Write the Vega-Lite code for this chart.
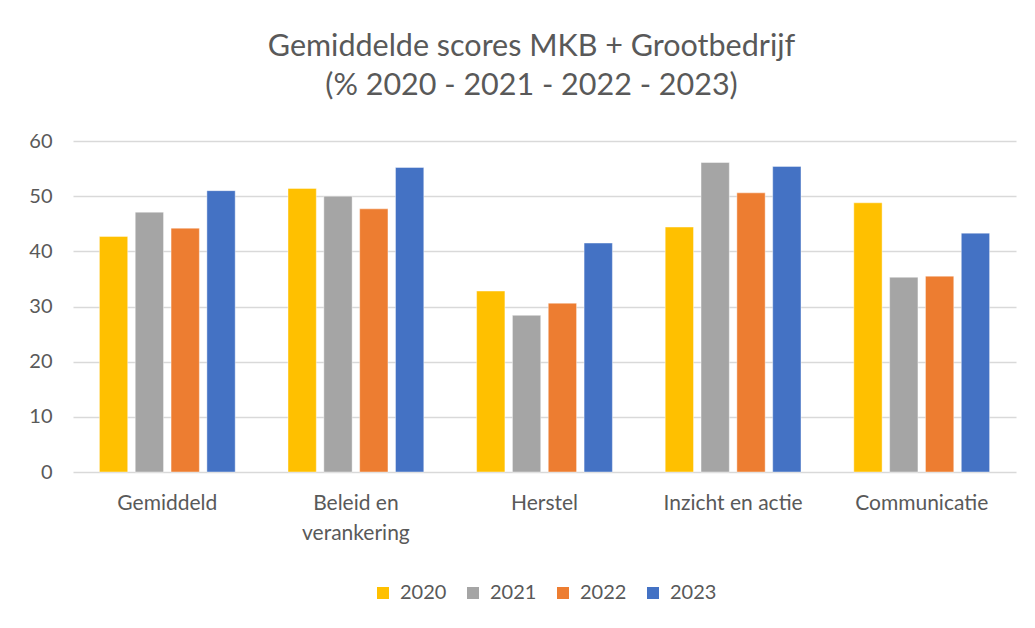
{
  "$schema": "https://vega.github.io/schema/vega-lite/v6.json",
  "autosize": {"type": "none"},
  "width": 943,
  "height": 331,
  "padding": {"left": 73, "top": 141, "right": 19, "bottom": 156},
  "background": "white",
  "title": {
    "text": ["Gemiddelde scores MKB + Grootbedrijf", "(% 2020 - 2021 - 2022 - 2023)"],
    "font": "Lato",
    "fontSize": 30.5,
    "fontWeight": "normal",
    "color": "#595959",
    "anchor": "middle",
    "lineHeight": 39,
    "offset": 30,
    "dx": -13
  },
  "data": {
    "values": [
      {"categorie": "Gemiddeld", "jaar": "2020", "score": 42.7},
      {"categorie": "Gemiddeld", "jaar": "2021", "score": 47.1},
      {"categorie": "Gemiddeld", "jaar": "2022", "score": 44.2},
      {"categorie": "Gemiddeld", "jaar": "2023", "score": 51.0},
      {"categorie": "Beleid en verankering", "jaar": "2020", "score": 51.4},
      {"categorie": "Beleid en verankering", "jaar": "2021", "score": 50.0},
      {"categorie": "Beleid en verankering", "jaar": "2022", "score": 47.7},
      {"categorie": "Beleid en verankering", "jaar": "2023", "score": 55.2},
      {"categorie": "Herstel", "jaar": "2020", "score": 32.8},
      {"categorie": "Herstel", "jaar": "2021", "score": 28.4},
      {"categorie": "Herstel", "jaar": "2022", "score": 30.6},
      {"categorie": "Herstel", "jaar": "2023", "score": 41.5},
      {"categorie": "Inzicht en actie", "jaar": "2020", "score": 44.4},
      {"categorie": "Inzicht en actie", "jaar": "2021", "score": 56.1},
      {"categorie": "Inzicht en actie", "jaar": "2022", "score": 50.6},
      {"categorie": "Inzicht en actie", "jaar": "2023", "score": 55.4},
      {"categorie": "Communicatie", "jaar": "2020", "score": 48.8},
      {"categorie": "Communicatie", "jaar": "2021", "score": 35.3},
      {"categorie": "Communicatie", "jaar": "2022", "score": 35.5},
      {"categorie": "Communicatie", "jaar": "2023", "score": 43.3}
    ]
  },
  "mark": {"type": "bar", "stroke": "white", "strokeWidth": 0.7, "strokeOpacity": 0.6},
  "encoding": {
    "x": {
      "field": "categorie",
      "type": "nominal",
      "sort": null,
      "title": null,
      "scale": {"paddingInner": 0.28, "paddingOuter": 0.14},
      "axis": {
        "labelAngle": 0,
        "ticks": false,
        "domain": false,
        "labelPadding": 20,
        "labelFont": "Lato",
        "labelFontSize": 21,
        "labelColor": "#595959",
        "labelLineHeight": 30,
        "labelExpr": "datum.label == 'Beleid en verankering' ? ['Beleid en', 'verankering'] : datum.label"
      }
    },
    "xOffset": {
      "field": "jaar",
      "type": "nominal",
      "scale": {"paddingInner": 0.21}
    },
    "y": {
      "field": "score",
      "type": "quantitative",
      "title": null,
      "scale": {"domain": [0, 60]},
      "axis": {
        "values": [0, 10, 20, 30, 40, 50, 60],
        "domain": false,
        "ticks": false,
        "labelPadding": 21,
        "labelFont": "Lato",
        "labelFontSize": 20,
        "labelColor": "#595959",
        "gridColor": "#d9d9d9",
        "gridWidth": 1.5
      }
    },
    "color": {
      "field": "jaar",
      "type": "nominal",
      "title": null,
      "scale": {
        "domain": ["2020", "2021", "2022", "2023"],
        "range": ["#FFC000", "#A5A5A5", "#ED7D31", "#4472C4"]
      },
      "legend": {
        "orient": "bottom",
        "direction": "horizontal",
        "symbolType": "square",
        "symbolSize": 144,
        "symbolStrokeWidth": 0,
        "labelFont": "Lato",
        "labelFontSize": 20,
        "labelColor": "#595959",
        "labelOffset": 7,
        "columnPadding": 16,
        "offset": 40
      }
    }
  },
  "config": {
    "view": {"stroke": null},
    "legend": {"layout": {"bottom": {"anchor": "middle"}}}
  }
}
